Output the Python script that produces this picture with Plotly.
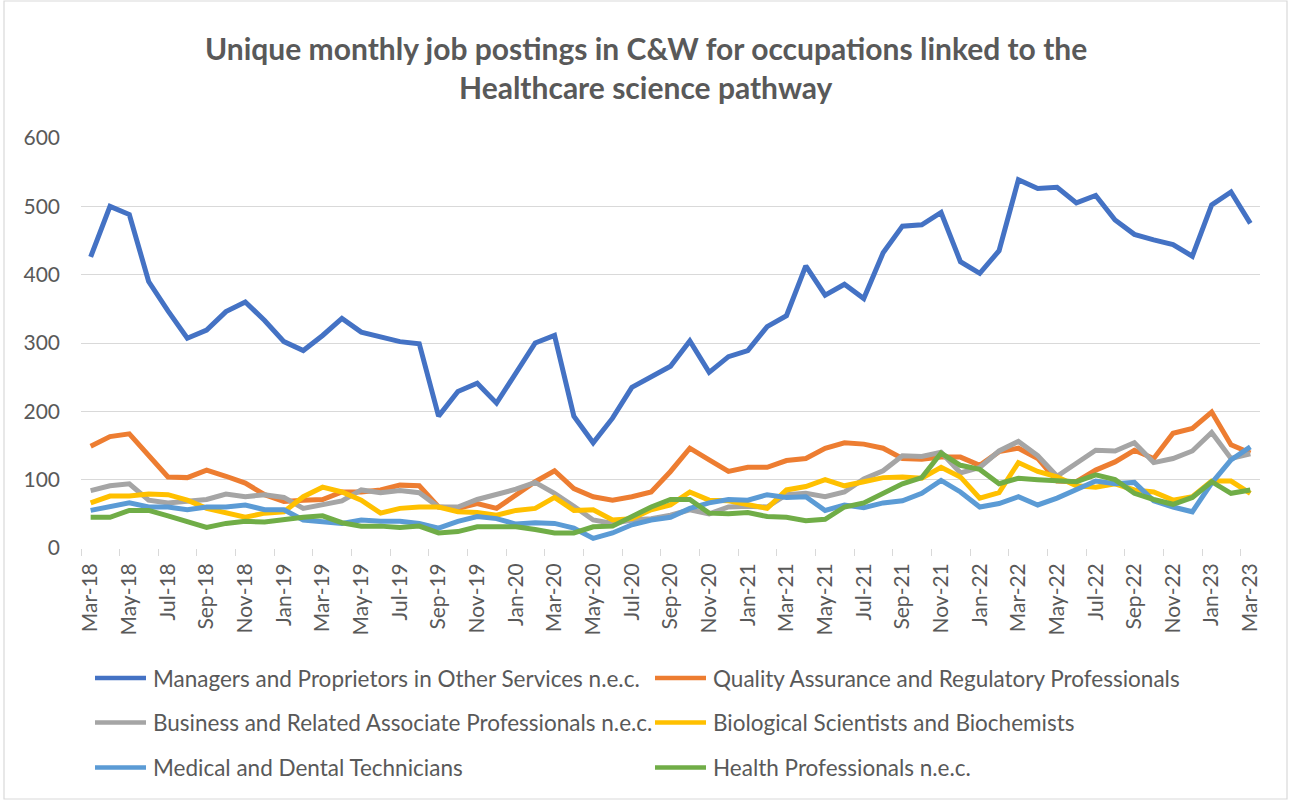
import plotly.graph_objects as go

months = ["Mar-18","Apr-18","May-18","Jun-18","Jul-18","Aug-18","Sep-18","Oct-18","Nov-18","Dec-18",
          "Jan-19","Feb-19","Mar-19","Apr-19","May-19","Jun-19","Jul-19","Aug-19","Sep-19","Oct-19","Nov-19","Dec-19",
          "Jan-20","Feb-20","Mar-20","Apr-20","May-20","Jun-20","Jul-20","Aug-20","Sep-20","Oct-20","Nov-20","Dec-20",
          "Jan-21","Feb-21","Mar-21","Apr-21","May-21","Jun-21","Jul-21","Aug-21","Sep-21","Oct-21","Nov-21","Dec-21",
          "Jan-22","Feb-22","Mar-22","Apr-22","May-22","Jun-22","Jul-22","Aug-22","Sep-22","Oct-22","Nov-22","Dec-22",
          "Jan-23","Feb-23","Mar-23"]

managers = [426,500,488,390,347,307,319,346,360,333,302,289,311,336,316,309,302,299,193,229,241,212,255,300,311,
            193,154,190,235,250,266,303,257,280,289,324,340,413,370,386,365,432,471,473,491,419,402,435,539,526,
            528,505,516,480,459,451,444,427,502,521,475]
quality = [149,163,167,136,104,103,114,105,95,78,68,70,71,82,82,85,92,91,60,58,65,58,78,97,113,87,75,70,75,82,
           112,146,129,112,118,118,128,131,146,154,152,146,131,130,133,133,121,141,146,131,98,97,114,126,143,131,
           168,175,199,151,139]
business = [84,91,94,70,66,68,71,79,75,78,74,58,64,69,85,81,84,81,60,60,71,78,86,96,80,61,41,36,41,43,48,56,50,
            60,61,60,78,80,75,82,101,113,135,134,140,110,118,142,156,135,105,124,143,142,154,125,131,142,169,131,138]
biological = [66,76,76,79,78,70,58,52,45,51,53,75,89,82,70,51,58,60,60,53,52,48,55,58,74,55,56,41,43,56,63,82,70,
              69,64,58,85,90,100,91,97,103,104,102,118,104,73,81,125,112,104,91,89,94,85,82,70,75,98,98,80]
medical = [55,60,66,60,60,56,60,60,63,56,56,41,39,36,41,39,39,36,29,39,46,43,35,37,36,29,14,22,34,41,45,58,66,71,
           70,78,74,75,55,63,59,66,69,80,99,82,60,65,75,63,73,86,98,94,96,69,60,53,95,129,148]
health = [45,45,55,55,47,39,30,36,39,38,42,45,47,37,32,32,30,32,22,24,31,31,31,27,22,22,31,32,46,60,71,71,51,50,
          52,46,45,40,42,60,66,81,94,103,139,121,115,94,102,100,98,97,107,100,80,71,64,74,97,80,85]

series_names = ["Managers and Proprietors in Other Services n.e.c.",
                "Quality Assurance and Regulatory Professionals",
                "Business and Related Associate Professionals n.e.c.",
                "Biological Scientists and Biochemists",
                "Medical and Dental Technicians",
                "Health Professionals n.e.c."]
series_values = [managers, quality, business, biological, medical, health]
colors = ["#4472C4", "#ED7D31", "#A5A5A5", "#FFC000", "#5B9BD5", "#70AD47"]

title_lines = ["Unique monthly job postings in C&W for occupations linked to the",
               "Healthcare science pathway"]

W, H = 1291, 801
L, R, T, B = 81, 1260, 138, 548  # plot area pixels
FONT = "Lato, Calibri, Noto Sans, sans-serif"
TXT = "#595959"
GRID = "#D9D9D9"

def px(x):
    return (x - L) / (R - L)

def py(y):
    return (B - y) / (B - T)

fig = go.Figure()
for name, vals, col in zip(series_names, series_values, colors):
    fig.add_trace(go.Scatter(x=months, y=vals, name=name, mode="lines",
                             line=dict(color=col, width=5), showlegend=False))

shapes = []
annotations = []
# Chart border
shapes.append(dict(type="rect", xref="paper", yref="paper",
                   x0=px(4), x1=px(1287), y0=py(799), y1=py(1),
                   line=dict(color=GRID, width=1.2), layer="below"))
# Title
for t, yy in zip(title_lines, [48, 87]):
    annotations.append(dict(text="<b>" + t + "</b>", xref="paper", yref="paper",
                            x=px(646), y=py(yy), xanchor="center", yanchor="middle",
                            showarrow=False, font=dict(family=FONT, size=30, color=TXT)))
# Legend (two columns, three rows)
col_line = [(95, 146), (655, 706)]
col_text = [151, 711]
row_y = [678, 722.5, 767.5]
for i, (name, col) in enumerate(zip(series_names, colors)):
    c, r = i % 2, i // 2
    shapes.append(dict(type="line", xref="paper", yref="paper",
                       x0=px(col_line[c][0]), x1=px(col_line[c][1]),
                       y0=py(row_y[r]), y1=py(row_y[r]),
                       line=dict(color=col, width=4.5)))
    annotations.append(dict(text=name, xref="paper", yref="paper",
                            x=px(col_text[c]), y=py(row_y[r]), xanchor="left", yanchor="middle",
                            showarrow=False, font=dict(family=FONT, size=22.5, color=TXT)))

fig.update_layout(
    width=W, height=H,
    margin=dict(l=L, r=W - R, t=T, b=H - B, pad=0),
    paper_bgcolor="white", plot_bgcolor="white",
    font=dict(family=FONT, color=TXT),
    shapes=shapes, annotations=annotations,
    showlegend=False,
)
fig.update_xaxes(type="category", range=[-0.5, len(months) - 0.5], dtick=2,
                 tickson="boundaries", ticks="outside", ticklen=7, tickcolor=GRID, tickwidth=1,
                 tickangle=-90, tickfont=dict(family=FONT, size=21, color=TXT),
                 showgrid=False, showline=False, zeroline=False, ticklabelstandoff=10)
fig.update_yaxes(range=[0, 600], dtick=100, showgrid=True, gridcolor=GRID, gridwidth=1.2,
                 zeroline=False, showline=False, ticks="",
                 tickfont=dict(family=FONT, size=21, color=TXT), ticklabelstandoff=20)

fig.write_html("out.html", config={"displayModeBar": False},
               post_script="document.body.style.margin='0';document.body.style.overflow='hidden';")
